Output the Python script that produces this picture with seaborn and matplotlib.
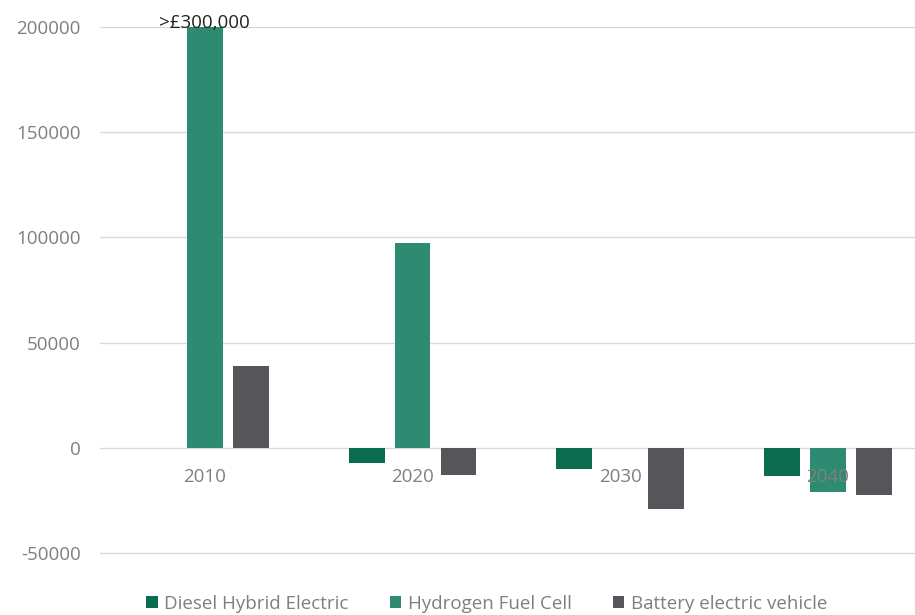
import matplotlib
matplotlib.use("Agg")
import matplotlib.pyplot as plt
from matplotlib.patches import Patch
import pandas as pd
import seaborn as sns

# Cost difference vs. diesel baseline (GBP)
years = ["2010", "2020", "2030", "2040"]
diesel_hybrid = [0, -7000, -10000, -13500]
hydrogen_fuel_cell = [300000, 97500, 0, -21000]
battery_electric = [39000, -13000, -29000, -22500]
series_names = ["Diesel Hybrid Electric", "Hydrogen Fuel Cell", "Battery electric vehicle"]
y_ticks = [-50000, 0, 50000, 100000, 150000, 200000]
capped_label = ">£300,000"

colors = ["#0b6c50", "#2f8a72", "#55555a"]

rows = []
for name, vals in zip(series_names, [diesel_hybrid, hydrogen_fuel_cell, battery_electric]):
    for yr, v in zip(years, vals):
        rows.append({"year": yr, "series": name, "value": v})
df = pd.DataFrame(rows)

sns.set_theme(style="white")
plt.rcParams["font.family"] = ["Open Sans", "DejaVu Sans"]
FS = 13.5

fig = plt.figure(figsize=(9.15, 6.15), dpi=100)
ax = fig.add_axes([0.1093, 0.0735, 0.8907, 0.8826])

sns.barplot(data=df, x="year", y="value", hue="series", hue_order=series_names,
            palette=colors, width=0.663, gap=0.22, ax=ax, legend=False,
            saturation=1, errorbar=None, linewidth=0)

ax.set_ylim(-58000, 200000)
ax.set_xlim(-0.505, 3.42)
ax.set_yticks(y_ticks)
ax.set_yticklabels([str(t) for t in y_ticks])
ax.yaxis.grid(True, color="#d9d9d9", linewidth=1)
ax.set_axisbelow(True)
ax.tick_params(axis="y", length=0, pad=14, labelsize=FS, labelcolor="#7f7f7f")
ax.set_xticks([])
ax.set_xlabel("")
ax.set_ylabel("")
for s in ax.spines.values():
    s.set_visible(False)

# Category labels sit just under the zero line
for i, yr in enumerate(years):
    ax.annotate(yr, xy=(i, 0), xytext=(0, -21), textcoords="offset points",
                ha="center", va="center", fontsize=FS, color="#7f7f7f",
                annotation_clip=False)

# Truncated bar label
ax.annotate(capped_label, xy=(0, 200000), xytext=(0, 3), textcoords="offset points",
            ha="center", va="center", fontsize=FS, color="#222222",
            annotation_clip=False)

handles = [Patch(facecolor=c, edgecolor="none") for c in colors]
fig.legend(handles, series_names, loc="center", bbox_to_anchor=(0.532, 0.018),
           ncol=3, frameon=False, handlelength=0.6, handleheight=0.6,
           handletextpad=0.35, columnspacing=2.2,
           prop={"size": FS}, labelcolor="#7f7f7f")

fig.savefig("out.png", dpi=100, facecolor="white")
